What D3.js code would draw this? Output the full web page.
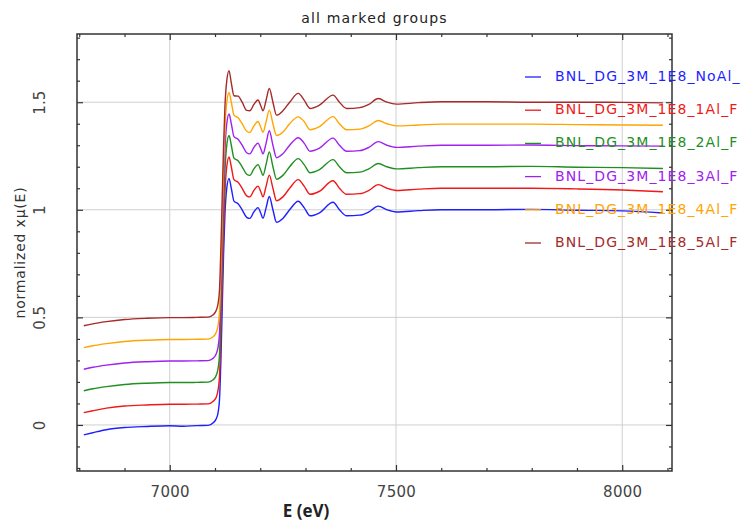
<!DOCTYPE html>
<html><head><meta charset="utf-8">
<script src="https://cdn.jsdelivr.net/npm/d3@7"></script>
<style>html,body{margin:0;padding:0;background:#fff;}svg{display:block;}</style>
</head><body><div id="chart"></div>
<script>
const title = "all marked groups";
const xLabel = "E (eV)";
const yLabel = "normalized xμ(E)";
const xTicks = [7000, 7500, 8000];
const yTicks = [0, 0.5, 1, 1.5];
const yTickLabels = ["0", "0.5", "1", "1.5"];
const seriesNames = ["BNL_DG_3M_1E8_NoAl_", "BNL_DG_3M_1E8_1Al_F", "BNL_DG_3M_1E8_2Al_F", "BNL_DG_3M_1E8_3Al_F", "BNL_DG_3M_1E8_4Al_F", "BNL_DG_3M_1E8_5Al_F"];
const seriesColors = ["#1f1fff", "#f01818", "#1f8f1f", "#a020f0", "#ffa500", "#a52a2a"];
const energy = [6810, 6830, 6860, 6900, 6950, 7000, 7030, 7060, 7085, 7096, 7103, 7107, 7110, 7113, 7116, 7119, 7122, 7126, 7131, 7136, 7142, 7151, 7160, 7170, 7177, 7186, 7195, 7201, 7206, 7213, 7220, 7228, 7236, 7250, 7265, 7284, 7297, 7310, 7330, 7361, 7375, 7391, 7420, 7440, 7461, 7480, 7501, 7550, 7600, 7700, 7800, 7900, 8000, 8090];
const muNoAl = [-0.046, -0.036, -0.022, -0.012, -0.007, -0.004, -0.006, -0.003, -0.002, 0.010, 0.030, 0.060, 0.120, 0.300, 0.550, 0.800, 0.980, 1.100, 1.146, 1.100, 1.040, 1.028, 1.000, 0.965, 0.960, 0.990, 1.010, 0.985, 0.960, 1.010, 1.062, 1.000, 0.942, 0.960, 1.000, 1.040, 1.010, 0.972, 0.985, 1.035, 1.000, 0.972, 0.975, 0.990, 1.017, 1.000, 0.990, 0.996, 1.000, 1.000, 1.002, 0.998, 0.995, 0.985];
const mu1Al = [0.057, 0.066, 0.078, 0.088, 0.093, 0.096, 0.096, 0.097, 0.098, 0.110, 0.130, 0.165, 0.230, 0.420, 0.660, 0.900, 1.080, 1.200, 1.245, 1.200, 1.140, 1.128, 1.100, 1.065, 1.060, 1.090, 1.110, 1.085, 1.060, 1.110, 1.161, 1.100, 1.042, 1.060, 1.100, 1.140, 1.110, 1.072, 1.085, 1.135, 1.100, 1.072, 1.075, 1.090, 1.117, 1.100, 1.090, 1.096, 1.100, 1.100, 1.100, 1.097, 1.092, 1.084];
const mu2Al = [0.159, 0.168, 0.178, 0.188, 0.194, 0.197, 0.197, 0.198, 0.199, 0.210, 0.232, 0.265, 0.330, 0.520, 0.760, 1.000, 1.180, 1.300, 1.345, 1.300, 1.240, 1.228, 1.200, 1.165, 1.160, 1.190, 1.210, 1.185, 1.160, 1.212, 1.269, 1.200, 1.142, 1.160, 1.200, 1.238, 1.210, 1.172, 1.185, 1.233, 1.200, 1.172, 1.175, 1.190, 1.215, 1.200, 1.190, 1.196, 1.200, 1.200, 1.202, 1.198, 1.196, 1.192];
const mu3Al = [0.259, 0.268, 0.278, 0.288, 0.294, 0.297, 0.297, 0.298, 0.299, 0.310, 0.332, 0.365, 0.430, 0.620, 0.860, 1.100, 1.280, 1.400, 1.445, 1.400, 1.340, 1.328, 1.300, 1.265, 1.260, 1.290, 1.310, 1.285, 1.260, 1.310, 1.367, 1.300, 1.242, 1.260, 1.300, 1.335, 1.310, 1.272, 1.285, 1.333, 1.300, 1.272, 1.275, 1.290, 1.317, 1.300, 1.290, 1.296, 1.300, 1.300, 1.301, 1.298, 1.297, 1.296];
const mu4Al = [0.359, 0.368, 0.378, 0.388, 0.394, 0.397, 0.397, 0.398, 0.399, 0.410, 0.432, 0.465, 0.530, 0.720, 0.960, 1.200, 1.380, 1.500, 1.545, 1.500, 1.440, 1.428, 1.400, 1.365, 1.360, 1.390, 1.410, 1.385, 1.360, 1.410, 1.463, 1.400, 1.345, 1.360, 1.400, 1.432, 1.410, 1.372, 1.385, 1.433, 1.400, 1.372, 1.375, 1.390, 1.415, 1.400, 1.390, 1.394, 1.398, 1.398, 1.398, 1.396, 1.394, 1.393];
const mu5Al = [0.461, 0.470, 0.480, 0.490, 0.496, 0.499, 0.499, 0.500, 0.501, 0.512, 0.534, 0.567, 0.632, 0.822, 1.062, 1.302, 1.482, 1.600, 1.646, 1.590, 1.530, 1.528, 1.500, 1.462, 1.460, 1.490, 1.510, 1.485, 1.460, 1.510, 1.564, 1.500, 1.440, 1.460, 1.500, 1.541, 1.510, 1.471, 1.485, 1.533, 1.500, 1.471, 1.475, 1.490, 1.517, 1.500, 1.491, 1.498, 1.502, 1.502, 1.500, 1.500, 1.499, 1.497];
const seriesValues = [muNoAl, mu1Al, mu2Al, mu3Al, mu4Al, mu5Al];

const W = 743, H = 521;
const m = {left: 77, top: 34, right: 672, bottom: 471};
const svg = d3.select("#chart").append("svg").attr("width", W).attr("height", H);
const x = d3.scaleLinear().domain([6795, 8110]).range([m.left, m.right]);
const y = d3.scaleLinear().domain([-0.214, 1.817]).range([m.bottom, m.top]);
const pw = m.right - m.left, ph = m.bottom - m.top;
const fontMain = "'DejaVu Sans', sans-serif";

// grid
const grid = svg.append("g");
grid.selectAll("line.gx").data(xTicks).join("line")
  .attr("x1", d => x(d)).attr("x2", d => x(d)).attr("y1", m.top).attr("y2", m.bottom)
  .attr("stroke", "#cfcfcf").attr("stroke-width", 1);
grid.selectAll("line.gy").data(yTicks).join("line")
  .attr("y1", d => y(d)).attr("y2", d => y(d)).attr("x1", m.left).attr("x2", m.right)
  .attr("stroke", "#cfcfcf").attr("stroke-width", 1);

// curves
svg.append("clipPath").attr("id", "clip").append("rect")
  .attr("x", m.left).attr("y", m.top).attr("width", pw).attr("height", ph);
const line = d3.line().x((d, i) => x(energy[i])).y(d => y(d)).curve(d3.curveMonotoneX);
const curves = svg.append("g").attr("clip-path", "url(#clip)");
seriesValues.forEach((vals, k) => {
  curves.append("path").datum(vals).attr("d", line)
    .attr("fill", "none").attr("stroke", seriesColors[k]).attr("stroke-width", 1.4)
    .attr("stroke-linejoin", "round");
});

// axes with inward ticks
const minorX = d3.range(6800, 8101, 100).filter(v => !xTicks.includes(v));
const minorY = d3.range(-2, 19).map(v => v / 10).filter(v => !yTicks.includes(v));
const axColor = "#333";
function addAxis(gen, tr) {
  const g = svg.append("g").attr("transform", tr).call(gen);
  g.select(".domain").remove();
  g.selectAll("line").attr("stroke", axColor).attr("stroke-width", 1.2);
  return g;
}
addAxis(d3.axisBottom(x).tickValues(minorX).tickSize(-3).tickFormat(""), `translate(0,${m.bottom})`);
addAxis(d3.axisTop(x).tickValues(minorX).tickSize(-3).tickFormat(""), `translate(0,${m.top})`);
addAxis(d3.axisLeft(y).tickValues(minorY).tickSize(-3).tickFormat(""), `translate(${m.left},0)`);
addAxis(d3.axisRight(y).tickValues(minorY).tickSize(-3).tickFormat(""), `translate(${m.right},0)`);
addAxis(d3.axisTop(x).tickValues(xTicks).tickSize(-6).tickFormat(""), `translate(0,${m.top})`);
addAxis(d3.axisRight(y).tickValues(yTicks).tickSize(-6).tickFormat(""), `translate(${m.right},0)`);
const xb = addAxis(d3.axisBottom(x).tickValues(xTicks).tickSize(-6).tickPadding(15).tickFormat(d3.format("d")), `translate(0,${m.bottom})`);
xb.selectAll("text").attr("font-family", fontMain).attr("font-size", 15).attr("fill", "#444").attr("letter-spacing", "0.3px");
const yl = addAxis(d3.axisLeft(y).tickValues(yTicks).tickSize(-6).tickFormat((d, i) => yTickLabels[i]), `translate(${m.left},0)`);
yl.selectAll("text").attr("font-family", fontMain).attr("font-size", 15).attr("fill", "#444")
  .attr("text-anchor", "middle").attr("x", 0).attr("dy", 0)
  .attr("transform", d => `translate(${40 - m.left},0) rotate(-90)`)
  .attr("dominant-baseline", "middle");

// frame
svg.append("rect").attr("x", m.left).attr("y", m.top).attr("width", pw).attr("height", ph)
  .attr("fill", "none").attr("stroke", axColor).attr("stroke-width", 1.5);

// title & labels
svg.append("text").attr("x", (m.left + m.right) / 2).attr("y", 23).attr("text-anchor", "middle")
  .attr("font-family", fontMain).attr("font-size", 14).attr("letter-spacing", "1.2px").attr("fill", "#222").text(title);
svg.append("text").attr("transform", `translate(21,${(m.top + m.bottom) / 2}) rotate(-90)`)
  .attr("text-anchor", "middle").attr("dominant-baseline", "middle")
  .attr("font-family", fontMain).attr("font-size", 14).attr("letter-spacing", "0.8px").attr("fill", "#333").text(yLabel);
svg.append("text").attr("x", 306).attr("y", 517).attr("text-anchor", "middle")
  .attr("font-family", "'Open Sans', 'Liberation Sans', sans-serif").attr("font-weight", "bold")
  .attr("font-size", 17).attr("fill", "#222").text(xLabel);

// legend
const legendY = d3.scalePoint().domain(seriesNames).range([77, 243]);
const lg = svg.append("g");
seriesNames.forEach((name, k) => {
  const yy = legendY(name);
  lg.append("line").attr("x1", 525).attr("x2", 541).attr("y1", yy).attr("y2", yy)
    .attr("stroke", seriesColors[k]).attr("stroke-width", 1.3);
  lg.append("text").attr("x", 555).attr("y", yy).attr("dominant-baseline", "middle")
    .attr("font-family", fontMain).attr("font-size", 14).attr("letter-spacing", "1.1px")
    .attr("fill", seriesColors[k]).text(name);
});
</script></body></html>
